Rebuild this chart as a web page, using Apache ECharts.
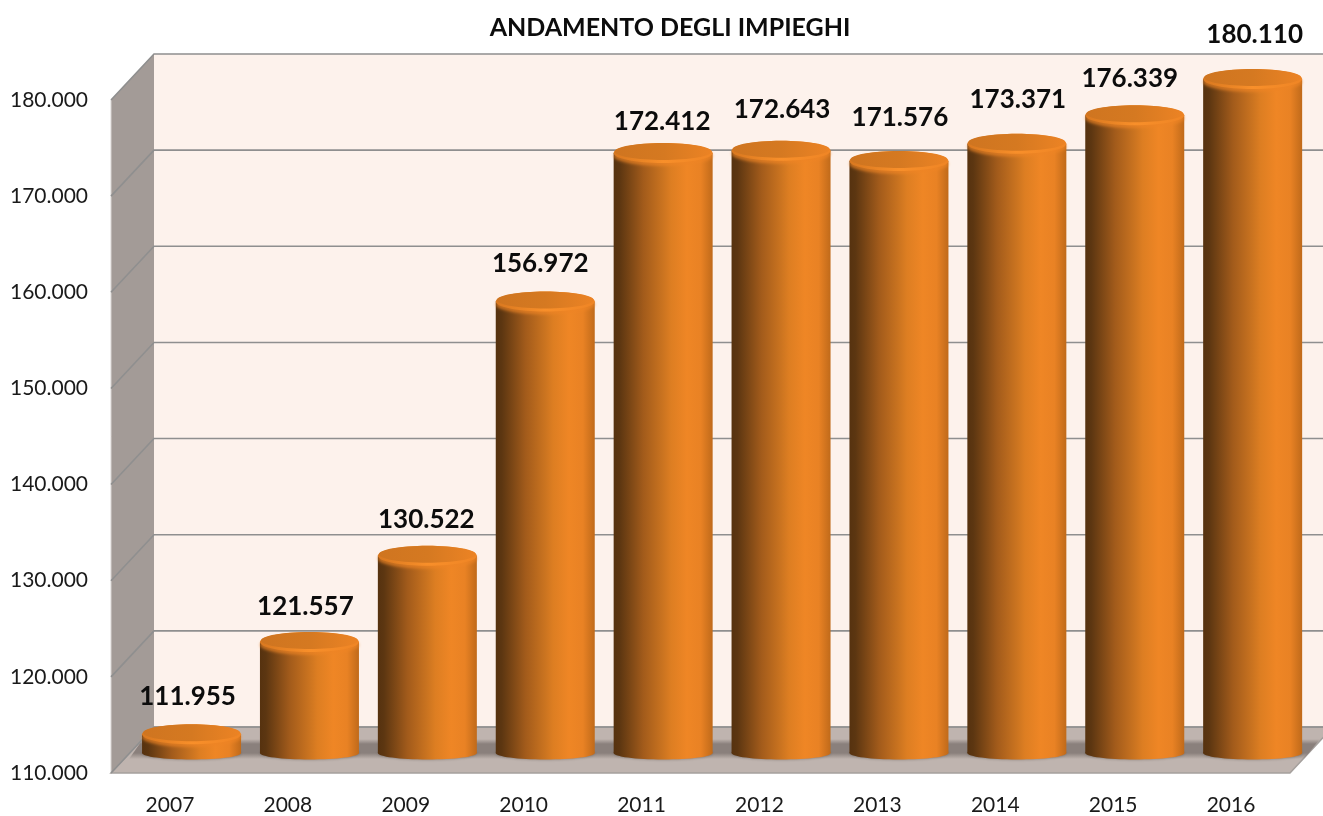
<!DOCTYPE html>
<html>
<head>
<meta charset="utf-8">
<title>Andamento degli impieghi</title>
<style>
  html, body { margin: 0; padding: 0; background: #fff; }
  #chart { width: 1323px; height: 816px; }
</style>
<script src="https://cdn.jsdelivr.net/npm/echarts@6/dist/echarts.min.js"></script>
</head>
<body>
<div id="chart"></div>
<script>
var years = ['2007', '2008', '2009', '2010', '2011', '2012', '2013', '2014', '2015', '2016'];
var impieghi = [111955, 121557, 130522, 156972, 172412, 172643, 171576, 173371, 176339, 180110];
var yTicks = [110000, 120000, 130000, 140000, 150000, 160000, 170000, 180000];

// fake 3d: how far the back wall sits from the front plane
var depthX = 43, depthY = 46;
var barDx = 21.6, barDy = 20;
var barRx = 49.5, topRy = 10, baseRy = 6.5;
// the labels were hand placed in the original
var labelNudge = [[-4, -38], [-4, -35], [-1, -36], [-5, -38], [-1, -31], [1, -41], [1, -43], [1, -44], [-5, -37], [2, -44]];

function dots(v) {
  return String(v).replace(/\B(?=(\d{3})+$)/g, '.');
}

function gradient(stops) {
  return new echarts.graphic.LinearGradient(0, 0, 1, 0, stops);
}

var bodyFill = gradient([
  { offset: 0, color: '#56320f' },
  { offset: 0.06, color: '#5c3611' },
  { offset: 0.3, color: '#a25b1b' },
  { offset: 0.5, color: '#cb7420' },
  { offset: 0.58, color: '#dd7e22' },
  { offset: 0.74, color: '#ef8625' },
  { offset: 0.88, color: '#e98224' },
  { offset: 1, color: '#c06a1a' }
]);
var rimFill = gradient([
  { offset: 0, color: '#d9781f' },
  { offset: 0.5, color: '#f88f2a' },
  { offset: 1, color: '#ef8525' }
]);
var topFill = gradient([
  { offset: 0, color: '#cf7520' },
  { offset: 0.5, color: '#d57921' },
  { offset: 1, color: '#ec8324' }
]);
var floorShadow = new echarts.graphic.LinearGradient(0, 0, 0, 1, [
  { offset: 0, color: 'rgba(138,128,124,0)' },
  { offset: 0.25, color: 'rgba(138,128,124,1)' },
  { offset: 0.7, color: 'rgba(138,128,124,1)' },
  { offset: 1, color: 'rgba(138,128,124,0)' }
]);

function renderWalls(params, api) {
  var c = params.coordSys;
  var l = c.x, r = c.x + c.width, t = c.y, b = c.y + c.height;
  return {
    type: 'group',
    children: [
      { type: 'polygon', shape: { points: [[l + depthX, t - depthY], [r + depthX, t - depthY], [r + depthX, b - depthY], [l + depthX, b - depthY]] }, style: { fill: '#fdf2ec' } },
      { type: 'polygon', shape: { points: [[l, t], [l + depthX, t - depthY], [l + depthX, b - depthY], [l, b]] }, style: { fill: '#a39b97' } },
      { type: 'polygon', shape: { points: [[l, b], [l + depthX, b - depthY], [r + depthX, b - depthY], [r, b]] }, style: { fill: '#bfb4af', stroke: '#a5a09d', lineWidth: 1.5 } },
      { type: 'line', shape: { x1: l, y1: t, x2: l, y2: b }, style: { stroke: '#d9d5d3', lineWidth: 1 } }
    ]
  };
}

function renderGridLine(params, api) {
  var c = params.coordSys;
  var y = api.coord([0, api.value(0)])[1];
  var right = c.x + c.width + depthX;
  return {
    type: 'polyline',
    shape: { points: [[c.x, y], [c.x + depthX, y - depthY], [right, y - depthY]] },
    style: { fill: 'none', stroke: '#8f8f8f', lineWidth: 1.6 }
  };
}

// dark band the cylinders leave on the floor, follows the floor slope
function renderShadow(params, api) {
  var c = params.coordSys;
  var b = c.y + c.height;
  var l = c.x, r = c.x + c.width;
  return {
    type: 'polygon',
    shape: { points: [[l + 32, b - 34], [r + 30, b - 34], [r + 14, b - 14], [l + 18, b - 14]] },
    style: { fill: floorShadow }
  };
}

function renderBar(params, api) {
  var i = api.value(0);
  var p = api.coord([i, api.value(1)]);
  var c = params.coordSys;
  var x = p[0] + barDx;
  var top = p[1] - barDy;
  var base = c.y + c.height - barDy;
  return {
    type: 'group',
    children: [
      { type: 'ellipse', shape: { cx: x, cy: base, rx: barRx, ry: baseRy }, style: { fill: bodyFill, shadowColor: 'rgba(90,80,75,0.6)', shadowBlur: 3 } },
      { type: 'rect', shape: { x: x - barRx, y: top, width: barRx * 2, height: base - top }, style: { fill: bodyFill } },
      { type: 'ellipse', shape: { cx: x, cy: top, rx: barRx, ry: topRy }, style: { fill: rimFill, shadowColor: 'rgba(238,132,36,0.7)', shadowBlur: 3, shadowOffsetY: 3 } },
      { type: 'ellipse', shape: { cx: x, cy: top - 1.5, rx: barRx - 1, ry: topRy - 1.5 }, style: { fill: topFill } },
      {
        type: 'text',
        style: {
          x: x + labelNudge[i][0],
          y: top + labelNudge[i][1],
          text: dots(api.value(1)),
          align: 'center',
          verticalAlign: 'middle',
          font: 'bold 26px Lato',
          fill: '#0c0c0c'
        }
      }
    ]
  };
}

var chart = echarts.init(document.getElementById('chart'), null, { renderer: 'canvas' });
var option = {
  animation: false,
  backgroundColor: '#ffffff',
  title: {
    text: 'ANDAMENTO DEGLI IMPIEGHI',
    left: 665,
    top: 10,
    textAlign: 'center',
    textStyle: { fontFamily: 'Lato', fontWeight: 'bold', fontSize: 25, color: '#0c0c0c' }
  },
  grid: { left: 111, right: 33, top: 100, bottom: 41 },
  xAxis: {
    type: 'category',
    data: years,
    axisLine: { show: false },
    axisTick: { show: false },
    axisLabel: { margin: 22, fontFamily: 'Lato', fontSize: 21, color: '#1a1a1a' }
  },
  yAxis: {
    type: 'value',
    min: 110000,
    max: 180000,
    interval: 10000,
    splitLine: { show: false },
    axisLine: { show: false },
    axisTick: { show: false },
    axisLabel: {
      margin: 23,
      fontFamily: 'Lato',
      fontSize: 21,
      color: '#1a1a1a',
      formatter: function (v) { return dots(v); }
    }
  },
  series: [
    { type: 'custom', name: 'pareti', renderItem: renderWalls, data: [[0]], silent: true, z: 1 },
    { type: 'custom', name: 'griglia', renderItem: renderGridLine, data: yTicks.map(function (v) { return [v]; }), encode: { y: 0 }, silent: true, z: 2 },
    { type: 'custom', name: 'ombra', renderItem: renderShadow, data: [[0]], silent: true, z: 3 },
    { type: 'custom', name: 'Impieghi', renderItem: renderBar, data: impieghi.map(function (v, i) { return [i, v]; }), encode: { x: 0, y: 1 }, z: 4 }
  ]
};
chart.setOption(option);
</script>
</body>
</html>
